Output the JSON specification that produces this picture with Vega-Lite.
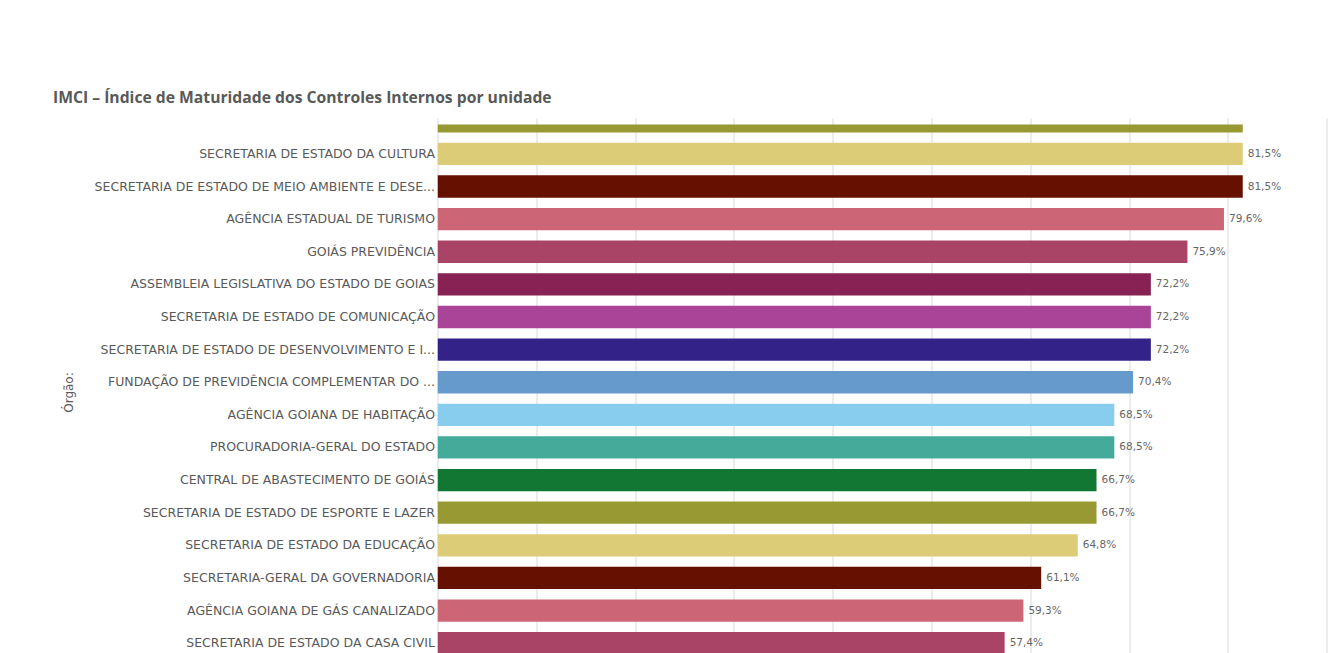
{
  "$schema": "https://vega.github.io/schema/vega-lite/v6.json",
  "autosize": "none",
  "padding": {"left": 437.5, "top": 124.5, "right": 0, "bottom": 0},
  "width": 892.5,
  "height": 528.5,
  "background": "white",
  "title": {
    "text": "IMCI – Índice de Maturidade dos Controles Internos por unidade",
    "anchor": "start",
    "frame": "group",
    "dx": -384.5,
    "offset": 8,
    "font": "Open Sans",
    "fontSize": 15.7,
    "fontWeight": "bold",
    "color": "#595959"
  },
  "data": {
    "values": [
      {"orgao": "(oculto)", "imci": 0.815},
      {"orgao": "SECRETARIA DE ESTADO DA CULTURA", "imci": 0.815},
      {"orgao": "SECRETARIA DE ESTADO DE MEIO AMBIENTE E DESE...", "imci": 0.815},
      {"orgao": "AGÊNCIA ESTADUAL DE TURISMO", "imci": 0.796},
      {"orgao": "GOIÁS PREVIDÊNCIA", "imci": 0.759},
      {"orgao": "ASSEMBLEIA LEGISLATIVA DO ESTADO DE GOIAS", "imci": 0.722},
      {"orgao": "SECRETARIA DE ESTADO DE COMUNICAÇÃO", "imci": 0.722},
      {"orgao": "SECRETARIA DE ESTADO DE DESENVOLVIMENTO E I...", "imci": 0.722},
      {"orgao": "FUNDAÇÃO DE PREVIDÊNCIA COMPLEMENTAR DO ...", "imci": 0.704},
      {"orgao": "AGÊNCIA GOIANA DE HABITAÇÃO", "imci": 0.685},
      {"orgao": "PROCURADORIA-GERAL DO ESTADO", "imci": 0.685},
      {"orgao": "CENTRAL DE ABASTECIMENTO DE GOIÁS", "imci": 0.667},
      {"orgao": "SECRETARIA DE ESTADO DE ESPORTE E LAZER", "imci": 0.667},
      {"orgao": "SECRETARIA DE ESTADO DA EDUCAÇÃO", "imci": 0.648},
      {"orgao": "SECRETARIA-GERAL DA GOVERNADORIA", "imci": 0.611},
      {"orgao": "AGÊNCIA GOIANA DE GÁS CANALIZADO", "imci": 0.593},
      {"orgao": "SECRETARIA DE ESTADO DA CASA CIVIL", "imci": 0.574}
    ]
  },
  "encoding": {
    "y": {
      "field": "orgao",
      "type": "nominal",
      "sort": null,
      "scale": {"range": [-19.55, 535], "paddingInner": 0.316, "paddingOuter": 0.158},
      "axis": {
        "title": "Órgão:",
        "titleX": -369.5,
        "titleY": 267.5,
        "titleAngle": -90,
        "titleAlign": "center",
        "titleBaseline": "middle",
        "titleFont": "DejaVu Sans",
        "titleFontSize": 12,
        "titleFontWeight": "normal",
        "titleColor": "#595959",
        "labelFont": "DejaVu Sans",
        "labelFontSize": 12.5,
        "labelColor": "#595959",
        "labelLimit": 0,
        "labelPadding": 3,
        "labelExpr": "datum.value == '(oculto)' ? '' : datum.value",
        "ticks": false,
        "domain": false,
        "grid": false
      }
    },
    "x": {
      "field": "imci",
      "type": "quantitative",
      "scale": {"domain": [0, 0.9033], "nice": false},
      "axis": {
        "values": [0, 0.1, 0.2, 0.3, 0.4, 0.5, 0.6, 0.7, 0.8, 0.9],
        "labels": false,
        "ticks": false,
        "domain": false,
        "title": null,
        "grid": true,
        "gridColor": "#d9d9d9",
        "gridWidth": 1
      }
    }
  },
  "layer": [
    {
      "mark": {"type": "bar", "clip": true},
      "encoding": {
        "color": {
          "field": "orgao",
          "type": "nominal",
          "sort": null,
          "legend": null,
          "scale": {
            "range": ["#999933", "#ddcc77", "#661100", "#cc6677", "#aa4466", "#882255", "#aa4499", "#332288", "#6699cc", "#88ccee", "#44aa99", "#117733"]
          }
        }
      }
    },
    {
      "transform": [{"filter": "datum.orgao != '(oculto)'"}],
      "mark": {"type": "text", "align": "left", "baseline": "middle", "dx": 5, "font": "DejaVu Sans", "fontSize": 10.5, "color": "#666666"},
      "encoding": {
        "text": {"field": "imci", "type": "quantitative", "format": ".1%"}
      }
    }
  ],
  "config": {
    "view": {"stroke": null},
    "locale": {
      "number": {"decimal": ",", "thousands": ".", "grouping": [3], "currency": ["R$", ""]}
    }
  }
}
